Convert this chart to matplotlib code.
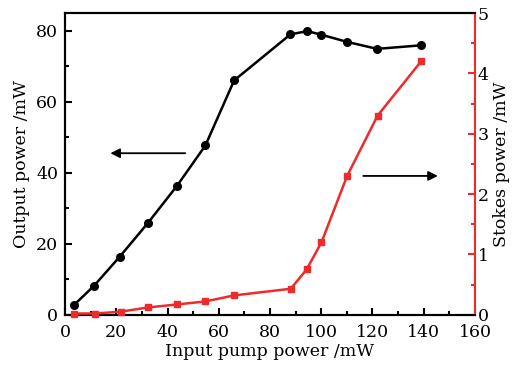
import matplotlib
matplotlib.use('Agg')
import matplotlib.pyplot as plt
from matplotlib.ticker import MultipleLocator

plt.rcParams['font.family'] = ['DejaVu Serif']
plt.rcParams['font.size'] = 12.5

# data
pump_out = [3.6, 11.4, 21.3, 32.3, 43.7, 54.8, 66.0, 88.0, 94.6, 100.0, 109.9, 121.8, 139.0]
output_power = [2.8, 8.2, 16.3, 25.8, 36.3, 47.7, 66.0, 79.0, 79.9, 78.9, 76.9, 74.9, 75.9]

pump_stokes = [3.5, 11.7, 21.7, 32.3, 43.7, 54.8, 66.0, 88.1, 94.3, 100.1, 110.1, 122.0, 139.0]
stokes_power = [0.02, 0.02, 0.05, 0.12, 0.17, 0.22, 0.32, 0.43, 0.75, 1.20, 2.30, 3.30, 4.20]

red = '#ee2a2a'

fig = plt.figure(figsize=(5.26, 3.72), dpi=100)
ax = fig.add_axes([0.1236, 0.154, 0.7794, 0.811])
ax2 = ax.twinx()

ax.plot(pump_out, output_power, color='black', marker='o', ms=5.5, lw=1.8, clip_on=False, zorder=3)
ax2.plot(pump_stokes, stokes_power, color=red, marker='s', ms=5, lw=1.8, clip_on=False, zorder=3)

ax.set_xlim(0, 160)
ax.set_ylim(0, 85)
ax2.set_ylim(0, 5)

ax.xaxis.set_major_locator(MultipleLocator(20))
ax.xaxis.set_minor_locator(MultipleLocator(10))
ax.yaxis.set_major_locator(MultipleLocator(20))
ax.yaxis.set_minor_locator(MultipleLocator(10))
ax2.yaxis.set_major_locator(MultipleLocator(1))
ax2.yaxis.set_minor_locator(MultipleLocator(0.5))

ax.tick_params(which='both', direction='in', top=False, right=False, width=1.5)
ax.tick_params(axis='x', pad=7)
ax.tick_params(axis='y', pad=5)
ax.tick_params(which='major', length=5)
ax.tick_params(which='minor', length=3)
ax2.tick_params(which='both', direction='in', color=red, width=1.5, pad=2)
ax2.tick_params(which='major', length=5)
ax2.tick_params(which='minor', length=3)

for s in ['left', 'bottom', 'top']:
    ax.spines[s].set_linewidth(1.5)
    ax2.spines[s].set_linewidth(1.5)
ax2.spines['right'].set_color(red)
ax2.spines['right'].set_linewidth(1.5)
ax.spines['right'].set_visible(False)

ax.set_xlabel('Input pump power /mW', labelpad=1)
ax.set_ylabel('Output power /mW', labelpad=4)
ax2.set_ylabel('Stokes power /mW', labelpad=3)

# arrows pointing to the axes
ax.annotate('', xy=(16.6, 45.5), xytext=(48.0, 45.5),
            arrowprops=dict(arrowstyle='-|>', color='black', lw=1.3, mutation_scale=14))
ax.annotate('', xy=(146.6, 39.1), xytext=(115.3, 39.1),
            arrowprops=dict(arrowstyle='-|>', color='black', lw=1.3, mutation_scale=14))

fig.savefig('out.png', dpi=100)
